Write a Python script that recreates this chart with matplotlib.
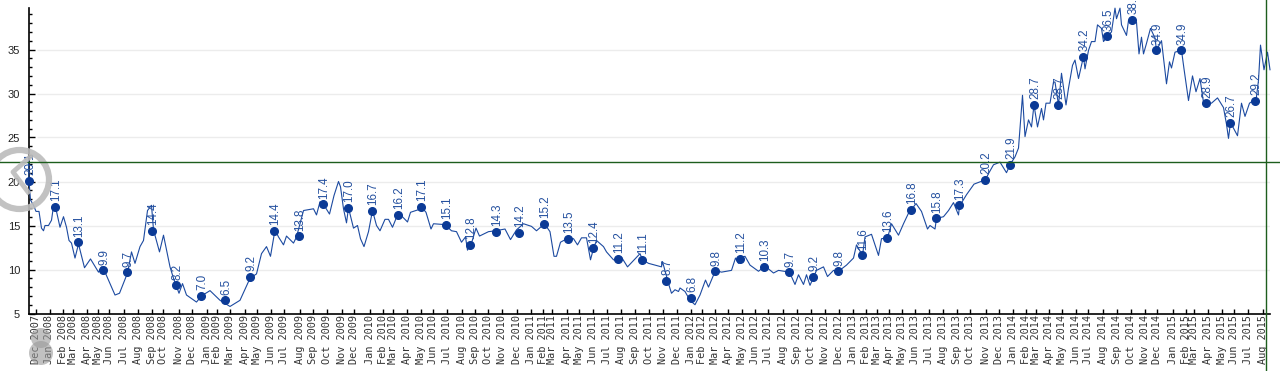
import matplotlib
matplotlib.use('Agg')
import matplotlib.pyplot as plt
from matplotlib.patches import Circle

# x positions are chart time units (1 unit = 1 px on the original chart)
line_t = [0, 0.5, 2, 5, 7.5, 10.5, 13, 15, 16.5, 20, 23, 25, 28, 31.5, 35, 38, 40.5, 43, 46.5, 50, 56, 62, 70, 73,
          76.5, 86.5, 91, 99, 103, 106.5, 111.5, 115, 119, 123, 125, 131, 135, 141.5, 145, 150.5, 154, 158, 168,
          173, 181.5, 191.5, 201.5, 211.5, 221.5, 228, 233, 238, 242, 246.5, 250, 255, 258, 265, 268, 275, 285, 288,
          291.5, 295, 301, 305.5, 310, 312, 315, 318, 320, 325, 329, 332, 335.5, 340, 344, 348, 351.5, 356.5, 360,
          364, 369, 373, 379, 382, 390, 393, 397.5, 402.5, 405, 416.5, 423, 428, 433, 437, 439, 443, 447.5, 451,
          460, 467, 476.5, 482, 488, 495, 503, 508, 516, 521.5, 525.5, 528, 532, 540, 545, 549, 553, 558, 562, 565,
          568, 575, 578, 585, 589, 593, 599, 606.5, 611.5, 614, 620, 633, 634, 640, 643, 646.5, 650, 651.5, 656.5,
          661.5, 666.5, 671.5, 677, 680, 687, 693, 703, 707, 710, 711.5, 716.5, 721.5, 730, 736.5, 745, 750, 761,
          766.5, 770, 775, 778, 781.5, 788, 795, 799, 805, 810, 818, 825, 828, 834, 836.5, 843, 850, 853, 859, 863,
          870, 875, 880, 883, 887.5, 893, 899, 901.5, 906.5, 908, 915, 920, 925, 930, 931, 938, 945.5, 957, 960, 965,
          971.5, 978, 981.5, 986.5, 990, 994, 996.5, 1000, 1003, 1005.5, 1009, 1013, 1015, 1017.5, 1021.5, 1025,
          1026.5, 1030, 1033, 1037.5, 1040, 1044, 1046.5, 1050, 1055, 1056.5, 1060, 1063, 1066.5, 1069, 1073, 1075,
          1079, 1083, 1086.5, 1088, 1091.5, 1093, 1098, 1100, 1104, 1108, 1110.5, 1113, 1115, 1118, 1122, 1126.5,
          1128, 1133, 1135, 1138, 1141, 1143, 1146.5, 1153, 1155.5, 1160, 1164, 1167.5, 1171.5, 1175, 1177, 1183,
          1189, 1195, 1198, 1200, 1202, 1209, 1213, 1216.5, 1221, 1225, 1227.5, 1230, 1232, 1235.5, 1239, 1241.5]
line_v = [22.5, 20.1, 17.9, 17.3, 16.6, 16.6, 14.7, 14.4, 15, 15, 15.6, 17.2, 16.6, 14.8, 16, 14.8, 13.3, 13, 11.3,
          12.9, 10.2, 11.2, 9.7, 10.3, 9.7, 7.1, 7.3, 9.6, 12, 10.7, 12.6, 13.3, 16.7, 17.3, 14.5, 12, 13.9, 10.3, 9,
          7.3, 8.4, 7.1, 6.3, 7, 7.6, 6.5, 5.8, 6.5, 9, 9.5, 11.8, 12.6, 11.5, 14.5, 13.7, 12.8, 13.8, 13, 13.7, 16.7,
          16.9, 16.2, 17.7, 17.4, 16.3, 18.4, 20, 19.4, 16.9, 15.3, 17, 14.7, 15, 13.5, 12.6, 14.3, 16.7, 15, 14.4,
          15.7, 15.7, 14.8, 16.2, 16.1, 15.4, 16.5, 16.8, 17.1, 16.5, 14.6, 15.2, 15.1, 14.4, 14.3, 13.1, 13.7, 12.2,
          13, 14.7, 13.8, 14.3, 14.4, 14.6, 13.4, 14.5, 15.2, 14.9, 14.4, 15.2, 14.3, 11.5, 11.5, 13.1, 13.6, 13.5,
          12.8, 13.6, 13.6, 11.1, 12.4, 13.3, 12.6, 12, 11.1, 11.1, 11.4, 10.3, 11.2, 11.8, 11.1, 10.7, 10.3, 10.9,
          8.4, 7.3, 7.7, 7.5, 7.9, 7.5, 6.5, 6, 7.1, 8.8, 8, 9.9, 9.7, 9.9, 11.3, 10.7, 11.3, 11.5, 10.5, 9.8, 10.4,
          9.6, 9.9, 9.7, 8.3, 9.4, 8.3, 9.4, 8.2, 9.9, 10.3, 9.2, 9.9, 9.8, 10.5, 11.3, 12.8, 11.6, 13.7, 14, 11.6,
          13.5, 13.6, 15.2, 13.9, 15.2, 16.4, 16.8, 17.5, 16.6, 14.6, 15, 14.6, 15.8, 16, 16.7, 17.6, 16.2, 17.2,
          18.5, 19.7, 20.2, 20.9, 21.9, 22.2, 21, 21.9, 22.8, 23.8, 29.8, 25.1, 27, 26.2, 28.7, 26.2, 28.3, 27, 28.9,
          28.9, 31.3, 31.3, 28.7, 32.3, 28.7, 30.6, 33.2, 33.8, 31.7, 34.2, 32.8, 34.9, 35.9, 35.9, 37.8, 37.4, 35.9,
          36.5, 37, 39.7, 38.5, 39.7, 37.8, 36.6, 38.3, 38.3, 38.1, 34.5, 36.4, 34.5, 35.7, 37.4, 36.3, 34.9, 36, 34,
          31.1, 33.6, 32.9, 34.7, 34.9, 32.8, 29.2, 32, 30.2, 31.7, 29, 28.9, 28.9, 29.5, 28.4, 26.5, 24.9, 26.7,
          25.2, 28.9, 27.4, 28.9, 29.2, 29.2, 31.5, 35.5, 32.7, 34.7, 32.7]

marker_t = [0.5, 26.5, 49.5, 74.5, 98.5, 123.5, 147.5, 172.5, 196.5, 221.5, 245.5, 270.5, 294.5, 319.5, 343.5, 369.5,
            392.5, 417.5, 441.5, 467.5, 490.5, 515.5, 539.5, 564.5, 589.5, 613.5, 637.5, 662.5, 686.5, 711.5, 735.5,
            760.5, 784.5, 809.5, 833.5, 858.5, 882.5, 907.5, 930.5, 956.5, 981.5, 1005.5, 1029.5, 1054.5, 1078.5,
            1103.5, 1127.5, 1152.5, 1177.5, 1201.5, 1226.5]
marker_v = [20.1, 17.1, 13.1, 9.9, 9.7, 14.4, 8.2, 7.0, 6.5, 9.2, 14.4, 13.8, 17.4, 17.0, 16.7, 16.2, 17.1, 15.1, 12.8,
            14.3, 14.2, 15.2, 13.5, 12.4, 11.2, 11.1, 8.7, 6.8, 9.8, 11.2, 10.3, 9.7, 9.2, 9.8, 11.6, 13.6, 16.8, 15.8,
            17.3, 20.2, 21.9, 28.7, 28.7, 34.2, 36.5, 38.4, 34.9, 34.9, 28.9, 26.7, 29.2]

tick_t = [7.5, 21, 34.5, 44.5, 58.5, 69.5, 80.5, 95.5, 109.5, 123.5, 134.5, 150.5, 163.5, 178.5, 188.5, 201.5, 216.5,
          228.5, 242.5, 255.5, 271.5, 284.5, 298.5, 313.5, 325.5, 341.5, 354.5, 364.5, 378.5, 392.5, 404.5, 418.5,
          433.5, 446.5, 459.5, 473.5, 488.5, 502.5, 514.5, 523.5, 538.5, 550.5, 564.5, 578.5, 592.5, 606.5, 620.5,
          634.5, 648.5, 662.5, 673.5, 686.5, 699.5, 713.5, 726.5, 739.5, 754.5, 768.5, 782.5, 796.5, 810.5, 824.5,
          837.5, 848.5, 860.5, 873.5, 886.5, 900.5, 914.5, 928.5, 941.5, 957.5, 970.5, 984.5, 997.5, 1007.5, 1020.5,
          1033.5, 1047.5, 1059.5, 1074.5, 1088.5, 1102.5, 1116.5, 1128.5, 1144.5, 1157.5, 1165.5, 1179.5, 1193.5,
          1205.5, 1219.5, 1234.5]
months = ['Dec', 'Jan', 'Feb', 'Mar', 'Apr', 'May', 'Jun', 'Jul', 'Aug', 'Sep', 'Oct', 'Nov']
tick_labels = ['Dec 2007'] + ['%s %d' % (months[(i % 12) + 1 if i % 12 < 11 else 0], 2008 + i // 12) for i in range(92)]

y_major = [5, 10, 15, 20, 25, 30, 35]
y_minor = list(range(5, 40))

line_color = '#1c4aa0'
dot_color = '#0b3a96'
label_color = '#24509f'
cross_color = '#1d5e1d'
overlay_color = '#bcbcbc'

W, H = 1280, 371
fig = plt.figure(figsize=(W / 100, H / 100), dpi=100)
ax = fig.add_axes([28.5 / W, 1 - 313.5 / H, 1241.5 / W, 305.5 / H])
ax.set_xlim(0, 1241.5)
ax.set_ylim(5, 5 + 305.5 / 8.8)

for s in ['top', 'right']:
    ax.spines[s].set_visible(False)
ax.spines['left'].set_linewidth(1.2)
ax.spines['bottom'].set_linewidth(1.2)

# gridlines start a little right of the axis
ax.hlines(y_major[1:], 8, 1241.5, color='#ececec', linewidth=1, zorder=1)

ax.plot(line_t, line_v, color=line_color, linewidth=0.8, zorder=3, clip_on=False)
ax.plot(marker_t, marker_v, 'o', color=dot_color, markersize=5.5, zorder=4, clip_on=False)
for t, v in zip(marker_t, marker_v):
    ax.annotate('%.1f' % v, (t, v), xytext=(1.2, 4), textcoords='offset points', rotation=90, ha='center', va='bottom',
                fontsize=8.4, family='Liberation Sans', color=label_color, zorder=5, annotation_clip=False)

ax.set_yticks(y_major)
ax.set_yticks(y_minor, minor=True)
ax.tick_params(axis='y', which='major', direction='in', length=4.5, width=1, pad=6, labelsize=8, labelcolor='#222222')
ax.tick_params(axis='y', which='minor', direction='in', length=2.5, width=1)
for lab in ax.get_yticklabels():
    lab.set_family('Liberation Sans')

ax.set_xticks(tick_t)
ax.set_xticklabels(tick_labels, rotation=90, family='DejaVu Sans Mono', fontsize=7.4, color='#333333')
ax.tick_params(axis='x', direction='in', length=3.6, width=1, pad=1)

# crosshair runs past the axes up to the picture edge
fig_ax = fig.add_axes([0, 0, 1, 1], facecolor='none')
fig_ax.set_xlim(0, W)
fig_ax.set_ylim(H, 0)
fig_ax.axis('off')
fig_ax.axhline(161.5, color=cross_color, linewidth=1)
fig_ax.axvline(1265.5, color=cross_color, linewidth=1)

# player overlay icons
fig_ax.add_patch(Circle((19.5, 179.5), 29.5, fill=False, edgecolor=overlay_color, linewidth=4.5, alpha=0.9))
fig_ax.plot([30, 13, 28], [157, 172, 192], color=overlay_color, linewidth=3.5, alpha=0.9)
fig_ax.add_patch(Circle((41, 338), 10, facecolor='#999999', edgecolor='none', alpha=0.6))
fig_ax.add_patch(Circle((41, 353), 12, facecolor='#999999', edgecolor='none', alpha=0.6))

fig.savefig('out.png', dpi=100)
